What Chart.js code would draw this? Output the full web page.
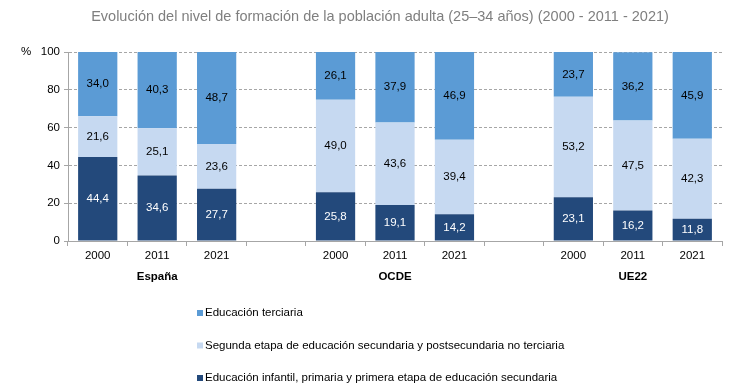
<!DOCTYPE html>
<html>
<head>
<meta charset="utf-8">
<script src="https://cdn.jsdelivr.net/npm/chart.js@4.4.0/dist/chart.umd.min.js"></script>
<style>
  html, body { margin: 0; padding: 0; background: #fff; }
</style>
</head>
<body>
<canvas id="chart" width="756" height="389"></canvas>
<script>
// Data (empty categories are the gaps between groups).
const years = ["2000", "2011", "2021", "", "2000", "2011", "2021", "", "2000", "2011", "2021"];
const groups = ["España", "OCDE", "UE22"];
const groupCenters = [1, 5, 9]; // category index under which each group name sits
const primaria = [44.4, 34.6, 27.7, null, 25.8, 19.1, 14.2, null, 23.1, 16.2, 11.8];
const secundaria = [21.6, 25.1, 23.6, null, 49.0, 43.6, 39.4, null, 53.2, 47.5, 42.3];
const terciaria = [34.0, 40.3, 48.7, null, 26.1, 37.9, 46.9, null, 23.7, 36.2, 45.9];
const yTicks = [0, 20, 40, 60, 80, 100];

const title = "Evolución del nivel de formación de la población adulta (25–34 años) (2000 - 2011 - 2021)";
const FONT = '"Liberation Sans", Arial, sans-serif';
const SMALL = 11.5;
const GRID = "#a6a6a6";

// Value labels in the middle of every stacked segment.
const segLabels = {
  id: "segLabels",
  afterDatasetsDraw(chart) {
    const ctx = chart.ctx;
    const top = chart.chartArea.top;
    ctx.save();
    ctx.font = SMALL + "px " + FONT;
    ctx.textAlign = "center";
    ctx.textBaseline = "middle";
    chart.data.datasets.forEach((ds, di) => {
      chart.getDatasetMeta(di).data.forEach((bar, i) => {
        const v = ds.data[i];
        if (v == null) return;
        const y = (Math.max(bar.y, top) + bar.base) / 2;
        ctx.fillStyle = ds.labelColor;
        ctx.fillText(v.toFixed(1).replace(".", ","), bar.x, y);
      });
    });
    ctx.restore();
  },
};

// Title, "%" unit, group names and the vertical legend.
const decor = {
  id: "decor",
  afterDraw(chart) {
    const ctx = chart.ctx;
    const x = chart.scales.x;
    ctx.save();
    ctx.textBaseline = "middle";

    ctx.fillStyle = "#7f7f7f";
    ctx.font = "14.5px " + FONT;
    ctx.textAlign = "center";
    ctx.fillText(title, 380, 17);

    ctx.fillStyle = "#000";
    ctx.font = SMALL + "px " + FONT;
    ctx.textAlign = "left";
    ctx.fillText("%", 21, chart.scales.y.getPixelForValue(100));

    ctx.font = "bold " + SMALL + "px " + FONT;
    ctx.textAlign = "center";
    groups.forEach((g, i) => {
      ctx.fillText(g, x.getPixelForValue(groupCenters[i]), 277);
    });

    // legend: top item first (reverse of stacking order)
    ctx.font = SMALL + "px " + FONT;
    ctx.textAlign = "left";
    const items = chart.data.datasets.slice().reverse();
    items.forEach((ds, i) => {
      const y = 313 + i * 32.5;
      ctx.fillStyle = ds.backgroundColor;
      ctx.fillRect(197, y - 3, 6, 6);
      ctx.fillStyle = "#000";
      ctx.fillText(ds.label, 205, y);
    });
    ctx.restore();
  },
};

new Chart(document.getElementById("chart"), {
  type: "bar",
  data: {
    labels: years,
    datasets: [
      {
        label: "Educación infantil, primaria y primera etapa de educación secundaria",
        data: primaria,
        backgroundColor: "#23497b",
        labelColor: "#fff",
      },
      {
        label: "Segunda etapa de educación secundaria y postsecundaria no terciaria",
        data: secundaria,
        backgroundColor: "#c6d9f1",
        labelColor: "#000",
      },
      {
        label: "Educación terciaria",
        data: terciaria,
        backgroundColor: "#5b9bd5",
        labelColor: "#000",
      },
    ],
  },
  options: {
    responsive: false,
    animation: false,
    layout: { padding: { top: 52, right: 34, bottom: 0, left: 0 } },
    datasets: { bar: { categoryPercentage: 1, barPercentage: 0.66, borderWidth: 0 } },
    plugins: { legend: { display: false }, title: { display: false }, tooltip: { enabled: false } },
    scales: {
      x: {
        stacked: true,
        grid: { offset: true, drawOnChartArea: false, color: GRID, tickLength: 5 },
        border: { color: GRID },
        ticks: { color: "#000", font: { size: SMALL, family: FONT }, padding: 3, maxRotation: 0, autoSkip: false },
        afterFit(s) { s.height = 148; },
      },
      y: {
        stacked: true,
        min: 0,
        max: 100,
        afterBuildTicks(s) { s.ticks = yTicks.map((v) => ({ value: v })); },
        ticks: { color: "#000", font: { size: SMALL, family: FONT }, padding: 4 },
        grid: { color: GRID, tickLength: 4, tickColor: GRID },
        border: { color: GRID, dash: [3, 2] },
        afterFit(s) { s.width = 68; },
      },
    },
  },
  plugins: [segLabels, decor],
});
</script>
</body>
</html>
